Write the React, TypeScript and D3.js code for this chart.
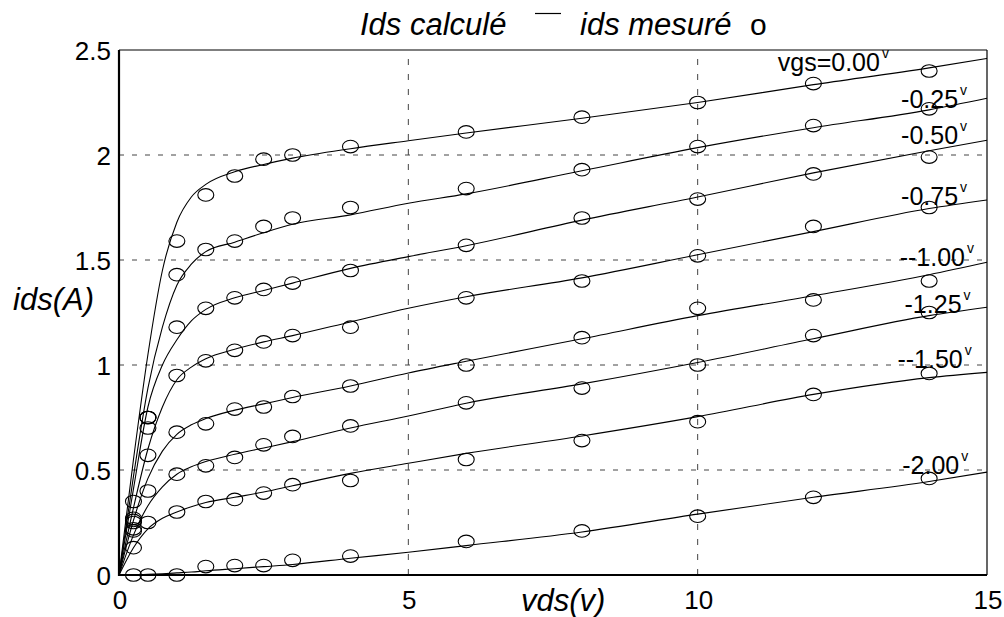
import React from 'react';
import * as d3 from 'd3';

// computed curves (Ids calculé), sampled at these vds values
const vdsCalc = [0, 0.25, 0.5, 0.75, 1, 1.25, 1.5, 2, 2.5, 3, 4, 5, 6, 8, 10, 12, 14, 15];
const calc0 = [0, 0.55, 1.05, 1.45, 1.68, 1.80, 1.86, 1.92, 1.955, 1.985, 2.03, 2.068, 2.105, 2.175, 2.25, 2.335, 2.415, 2.46];
const calc1 = [0, 0.47, 0.89, 1.18, 1.38, 1.48, 1.54, 1.585, 1.63, 1.67, 1.715, 1.77, 1.815, 1.925, 2.035, 2.13, 2.215, 2.27];
const calc2 = [0, 0.41, 0.80, 1.0, 1.12, 1.21, 1.265, 1.32, 1.355, 1.39, 1.46, 1.516, 1.568, 1.69, 1.80, 1.915, 2.02, 2.07];
const calc3 = [0, 0.32, 0.60, 0.80, 0.93, 0.99, 1.03, 1.075, 1.11, 1.14, 1.205, 1.27, 1.325, 1.415, 1.525, 1.635, 1.745, 1.786];
const calc4 = [0, 0.26, 0.46, 0.59, 0.67, 0.715, 0.745, 0.785, 0.815, 0.845, 0.90, 0.962, 1.018, 1.125, 1.235, 1.33, 1.43, 1.489];
const calc5 = [0, 0.19, 0.33, 0.42, 0.48, 0.515, 0.54, 0.575, 0.605, 0.635, 0.70, 0.757, 0.818, 0.91, 1.012, 1.125, 1.235, 1.275];
const calc6 = [0, 0.13, 0.22, 0.27, 0.30, 0.325, 0.345, 0.37, 0.395, 0.425, 0.484, 0.532, 0.579, 0.662, 0.754, 0.86, 0.94, 0.965];
const calc7 = [0, 0.0, 0.003, 0.006, 0.01, 0.014, 0.02, 0.03, 0.04, 0.05, 0.08, 0.108, 0.14, 0.205, 0.29, 0.37, 0.445, 0.49];

// measured points (ids mesuré)
const vdsMeas = [0.25, 0.5, 1, 1.5, 2, 2.5, 3, 4, 6, 8, 10, 12, 14];
const meas0 = [0.35, 0.75, 1.59, 1.81, 1.90, 1.98, 2.00, 2.04, 2.11, 2.18, 2.25, 2.34, 2.40];
const meas1 = [0.27, 0.75, 1.43, 1.55, 1.59, 1.66, 1.70, 1.75, 1.84, 1.93, 2.04, 2.14, 2.22];
const meas2 = [0.26, 0.75, 1.18, 1.27, 1.32, 1.36, 1.39, 1.45, 1.57, 1.70, 1.79, 1.91, 1.99];
const meas3 = [0.25, 0.70, 0.95, 1.02, 1.07, 1.11, 1.14, 1.18, 1.32, 1.40, 1.52, 1.66, 1.75];
const meas4 = [0.22, 0.57, 0.68, 0.72, 0.79, 0.80, 0.85, 0.90, 1.00, 1.13, 1.27, 1.31, 1.40];
const meas5 = [0.21, 0.40, 0.48, 0.52, 0.56, 0.62, 0.66, 0.71, 0.82, 0.89, 1.00, 1.14, 1.25];
const meas6 = [0.13, 0.25, 0.30, 0.35, 0.36, 0.39, 0.43, 0.45, 0.55, 0.64, 0.73, 0.86, 0.96];
const meas7 = [0.00, 0.00, 0.00, 0.04, 0.045, 0.045, 0.07, 0.09, 0.16, 0.21, 0.28, 0.37, 0.46];

const calcSeries = [calc0, calc1, calc2, calc3, calc4, calc5, calc6, calc7];
const measSeries = [meas0, meas1, meas2, meas3, meas4, meas5, meas6, meas7];

// curve labels anchored in data units (end of text)
const labelTexts = ['vgs=0.00', '-0.25', '-0.50', '-0.75', '--1.00', '-1.25', '--1.50', '-2.00'];
const labelVds = [13.15, 14.5, 14.5, 14.5, 14.62, 14.56, 14.58, 14.52];
const labelIds = [2.40, 2.222, 2.052, 1.762, 1.473, 1.246, 0.984, 0.481];

const xTicks = [0, 5, 10, 15];
const yTicks = [0, 0.5, 1, 1.5, 2, 2.5];
const xGrid = [5, 10];
const yGrid = [0.5, 1, 1.5, 2];

const FONT = '"Liberation Sans", Arial, sans-serif';

export default function App() {
  const x = d3.scaleLinear().domain([0, 15]).range([119, 987]);
  const y = d3.scaleLinear().domain([0, 2.5]).range([575, 50]);
  const line = d3
    .line<number>()
    .x((_, i) => x(vdsCalc[i]))
    .y((d) => y(d))
    .curve(d3.curveMonotoneX);

  return (
    <svg
      width={1004}
      height={617}
      style={{ position: 'absolute', left: 0, top: 0, background: '#fff' }}
      fontFamily={FONT}
    >
      <rect x={0} y={0} width={1004} height={617} fill="#fff" />
      {/* grid */}
      {xGrid.map((v) => (
        <line key={'gx' + v} x1={x(v)} x2={x(v)} y1={y(0)} y2={y(2.5)} stroke="#444" strokeWidth={1} strokeDasharray="6,9" />
      ))}
      {yGrid.map((v) => (
        <line key={'gy' + v} x1={x(0)} x2={x(15)} y1={y(v)} y2={y(v)} stroke="#444" strokeWidth={1} strokeDasharray="5,8" />
      ))}
      {/* computed curves */}
      {calcSeries.map((s, i) => (
        <path key={'c' + i} d={line(s) || ''} fill="none" stroke="#000" strokeWidth={1.1} />
      ))}
      {/* measured points */}
      {measSeries.map((s, i) =>
        s.map((v, j) => (
          <ellipse key={'m' + i + '-' + j} cx={x(vdsMeas[j])} cy={y(v)} rx={8} ry={6.3} fill="none" stroke="#000" strokeWidth={1.1} />
        ))
      )}
      {/* frame */}
      <line x1={x(0)} x2={x(15)} y1={y(2.5)} y2={y(2.5)} stroke="#000" strokeWidth={1.2} />
      <line x1={x(15)} x2={x(15)} y1={y(2.5)} y2={y(0)} stroke="#000" strokeWidth={1.2} />
      <line x1={x(0)} x2={x(0)} y1={y(2.5)} y2={y(0) + 1} stroke="#000" strokeWidth={2.2} />
      <line x1={x(0) - 1} x2={x(15)} y1={y(0)} y2={y(0)} stroke="#000" strokeWidth={2.2} />
      {/* tick labels */}
      {yTicks.map((v) => (
        <text key={'yt' + v} x={111} y={y(v) + 10} textAnchor="end" fontSize={26} fill="#000">
          {String(v)}
        </text>
      ))}
      {xTicks.map((v) => (
        <text key={'xt' + v} x={x(v) + 1} y={609} textAnchor="middle" fontSize={26} fill="#000">
          {String(v)}
        </text>
      ))}
      {/* axis titles */}
      <text x={13} y={310} fontSize={31} fontStyle="italic" fill="#000">ids(A)</text>
      <text x={521} y={611} fontSize={31} fontStyle="italic" fill="#000">vds(v)</text>
      {/* chart title / legend */}
      <text x={360} y={35} fontSize={31} fontStyle="italic" fill="#000">Ids calculé</text>
      <line x1={535} x2={561} y1={13.5} y2={13.5} stroke="#000" strokeWidth={1.2} />
      <text x={580} y={35} fontSize={31} fontStyle="italic" fill="#000">ids mesuré</text>
      <text x={750} y={35} fontSize={30} fill="#000">o</text>
      {/* curve labels */}
      {labelTexts.map((t, i) => (
        <g key={'lab' + i}>
          <text x={x(labelVds[i])} y={y(labelIds[i])} textAnchor="end" fontSize={25} fill="#000">
            {t}
          </text>
          <text x={x(labelVds[i]) + 2} y={y(labelIds[i]) - 13} fontSize={14} fill="#000">
            v
          </text>
        </g>
      ))}
    </svg>
  );
}
